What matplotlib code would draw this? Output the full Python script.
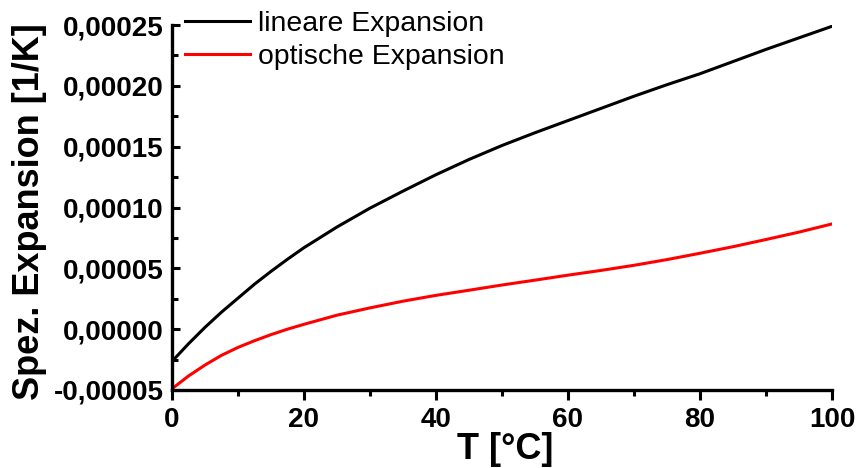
import matplotlib
matplotlib.use("Agg")
import matplotlib.pyplot as plt
from matplotlib.ticker import FuncFormatter, MultipleLocator

plt.rcParams['font.family'] = ['Liberation Sans', 'DejaVu Sans']

# temperature points (deg C)
temp = [0, 2.5, 5, 7.5, 10, 12.5, 15, 17.5, 20, 25, 30, 35, 40, 45, 50,
        55, 60, 65, 70, 75, 80, 85, 90, 95, 100]
# spec. expansion in units of 1e-5 1/K
linear_exp = [-2.65, -1.2, 0.15, 1.4, 2.55, 3.7, 4.75, 5.75, 6.7, 8.4, 9.95,
              11.35, 12.7, 13.95, 15.1, 16.15, 17.15, 18.15, 19.15, 20.1, 21.0,
              22.0, 23.0, 23.95, 24.9]
optical_exp = [-4.9, -3.85, -2.95, -2.15, -1.5, -0.95, -0.45, 0.0, 0.4, 1.15,
               1.75, 2.3, 2.78, 3.2, 3.63, 4.03, 4.44, 4.83, 5.25, 5.72, 6.24,
               6.78, 7.37, 7.98, 8.65]

series = [("lineare Expansion", linear_exp, "black"),
          ("optische Expansion", optical_exp, "#ff0000")]


def comma_fmt(v, pos):
    return ("%.5f" % v).replace(".", ",").replace("-0,00000", "0,00000")


fig = plt.figure(figsize=(8.57, 4.68), dpi=100)
ax = fig.add_axes([0.2007, 0.1667, 0.7701, 0.7797])

for name, vals, col in series:
    ax.plot(temp, [v * 1e-5 for v in vals], color=col, lw=2.2, label=name)

ax.set_xlim(0, 100)
ax.set_ylim(-0.00005, 0.00025)
ax.xaxis.set_major_locator(MultipleLocator(20))
ax.xaxis.set_minor_locator(MultipleLocator(10))
ax.yaxis.set_major_locator(MultipleLocator(0.00005))
ax.yaxis.set_minor_locator(MultipleLocator(0.000025))
ax.yaxis.set_major_formatter(FuncFormatter(comma_fmt))

for s in ['top', 'right']:
    ax.spines[s].set_visible(False)
for s in ['left', 'bottom']:
    ax.spines[s].set_linewidth(2.4)

ax.tick_params(axis='x', which='major', direction='out', length=7, width=2.2, pad=5)
ax.tick_params(axis='x', which='minor', direction='out', length=4.5, width=2.2)
ax.tick_params(axis='y', which='major', direction='in', length=5.5, width=2.2, pad=6)
ax.tick_params(axis='y', which='minor', direction='in', length=4, width=2.2)
for lab in ax.get_xticklabels() + ax.get_yticklabels():
    lab.set_fontsize(20)
    lab.set_fontweight('bold')

ax.set_xlabel("T [°C]", fontsize=26, fontweight='bold')
ax.set_ylabel("Spez. Expansion [1/K]", fontsize=26, fontweight='bold')
ax.xaxis.set_label_coords(0.505, -0.115)
ax.yaxis.set_label_coords(-0.19, 0.49)

ax.legend(loc='upper left', bbox_to_anchor=(0.003, 1.07), frameon=False,
          fontsize=20.4, handlelength=2.3, handletextpad=0.25,
          labelspacing=0.26, borderaxespad=0.0)

fig.savefig("out.png", dpi=100)
